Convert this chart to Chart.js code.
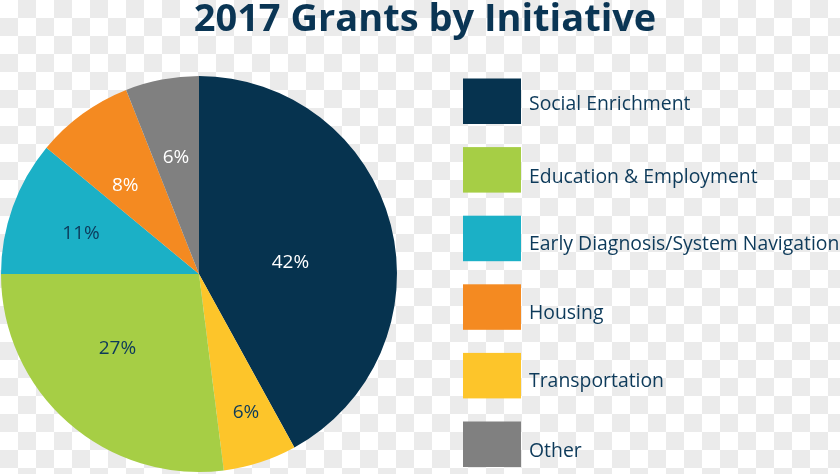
<!DOCTYPE html>
<html>
<head>
<meta charset="utf-8">
<title>2017 Grants by Initiative</title>
<script src="https://cdn.jsdelivr.net/npm/chart.js@4/dist/chart.umd.min.js"></script>
<style>
    html, body {
        margin: 0;
        padding: 0;
        width: 840px;
        height: 474px;
        overflow: hidden;
        background-color: #fff;
        background-image: conic-gradient(#ebebeb 25%, #fff 0 50%, #ebebeb 0 75%, #fff 0);
        background-size: 36px 36px;
    }
    #wrap { position: relative; width: 840px; height: 474px; }
</style>
</head>
<body>
<div id="wrap"><canvas id="chart" width="840" height="474"></canvas></div>
<script>
// ─── Data ──────────────────────────────────────────────────
const CATEGORIES = [
    'Social Enrichment',
    'Transportation',
    'Education & Employment',
    'Early Diagnosis/System Navigation',
    'Housing',
    'Other',
];
const SHARES = [42, 6, 27, 11, 8, 6];

// legend reads in a different order than the slices
const LEGEND_ORDER = [
    'Social Enrichment',
    'Education & Employment',
    'Early Diagnosis/System Navigation',
    'Housing',
    'Transportation',
    'Other',
];

// ─── Styling ───────────────────────────────────────────────
const COLORS = {
    'Social Enrichment': '#06334f',
    'Transportation': '#fdc52a',
    'Education & Employment': '#a6ce45',
    'Early Diagnosis/System Navigation': '#1bb0c6',
    'Housing': '#f48a21',
    'Other': '#808080',
};
const LABEL_COLORS = ['#ffffff', '#0d3a5a', '#0d3a5a', '#0d3a5a', '#ffffff', '#ffffff'];
const LABEL_RADIUS = [0.465, 0.74, 0.56, 0.63, 0.58, 0.6];
const LABEL_ANGLE_SHIFT = [7.4, -0.7, 6, -0.8, -4, -0.4];   // degrees, clockwise
const LEGEND_TEXT_DROP = [31, 35.4, 34.4, 35, 34, 35.2];   // baseline below box top
const TEXT_NAVY = '#0d3a5a';
const FONT = "'Open Sans', sans-serif";

// slice labels
const sliceLabels = {
    id: 'sliceLabels',
    afterDatasetsDraw(chart) {
        const ctx = chart.ctx;
        const meta = chart.getDatasetMeta(0);
        ctx.save();
        ctx.font = `19px ${FONT}`;
        ctx.textAlign = 'center';
        ctx.textBaseline = 'middle';
        meta.data.forEach((arc, i) => {
            const mid = (arc.startAngle + arc.endAngle) / 2 + LABEL_ANGLE_SHIFT[i] * Math.PI / 180;
            const r = arc.outerRadius * LABEL_RADIUS[i];
            ctx.fillStyle = LABEL_COLORS[i];
            ctx.fillText(SHARES[i] + '%', arc.x + Math.cos(mid) * r, arc.y + Math.sin(mid) * r);
        });
        ctx.restore();
    },
};

// title + square legend on the right
const sideLegend = {
    id: 'sideLegend',
    afterDraw(chart) {
        const ctx = chart.ctx;
        ctx.save();

        ctx.font = `bold 38px ${FONT}`;
        ctx.fillStyle = '#0a3554';
        ctx.textAlign = 'center';
        ctx.textBaseline = 'alphabetic';
        ctx.fillText('2017 Grants by Initiative', 425, 31);

        ctx.font = `19.4px ${FONT}`;
        ctx.textAlign = 'left';
        LEGEND_ORDER.forEach((name, i) => {
            const y = 78.5 + i * 68.6;
            ctx.fillStyle = COLORS[name];
            ctx.fillRect(463, y, 58, 45.5);
            ctx.fillStyle = TEXT_NAVY;
            ctx.fillText(name, 529, y + LEGEND_TEXT_DROP[i]);
        });
        ctx.restore();
    },
};

new Chart(document.getElementById('chart'), {
    type: 'pie',
    data: {
        labels: CATEGORIES,
        datasets: [{
            data: SHARES,
            backgroundColor: CATEGORIES.map(c => COLORS[c]),
            borderWidth: 0,
        }],
    },
    options: {
        responsive: false,
        animation: false,
        layout: { padding: { left: 1, top: 76, right: 443, bottom: 2 } },
        plugins: {
            legend: { display: false },
            tooltip: { enabled: false },
        },
    },
    plugins: [sliceLabels, sideLegend],
});
</script>
</body>
</html>
